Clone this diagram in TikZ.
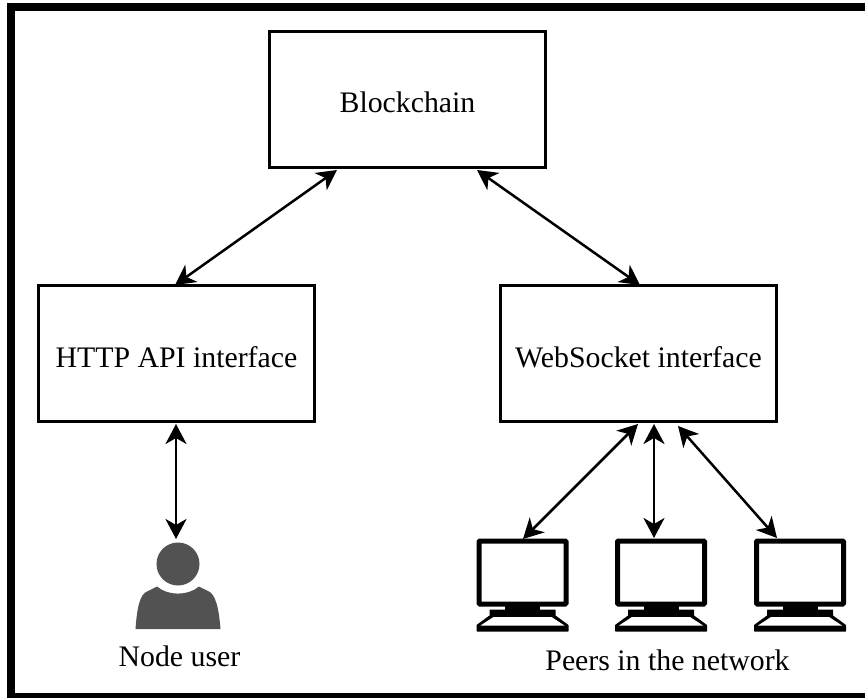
\documentclass[tikz,border=0pt]{standalone}
\usepackage{fontspec}
\setmainfont{Liberation Serif}
\usetikzlibrary{arrows.meta,calc}
\tikzset{
  x=1pt,y=-1pt,
  box/.style={draw=black,line width=2.6pt,fill=white,minimum width=276pt,minimum height=136pt,inner sep=0pt,text height=27pt,text depth=0pt,font=\fontsize{29.8}{36}\selectfont},
  lbl/.style={inner sep=0pt,anchor=base,font=\fontsize{29.8}{36}\selectfont},
  link/.style={line width=2.5pt,{Stealth[length=20pt,width=21pt,inset=6pt]}-{Stealth[length=20pt,width=21pt,inset=6pt]}},
  screen/.style={draw=black,line width=5pt,fill=white,rounded corners=1pt,minimum width=87pt,minimum height=63pt,inner sep=0pt},
  personfill/.style={fill=black!68},
}
\newcommand{\pcbase}[1]{%
  \fill[black] ($(#1)+(-17.5,33)$) rectangle ($(#1)+(17.5,40)$);
  \fill[black,rounded corners=.5pt] ($(#1)+(-33,37)$) rectangle ($(#1)+(33,44)$);
  \fill[black,rounded corners=.5pt] ($(#1)+(-33,43)$) -- ($(#1)+(33,43)$) -- ($(#1)+(46,52.5)$) -- ($(#1)+(46,59)$) -- ($(#1)+(-46,59)$) -- ($(#1)+(-46,52.5)$) -- cycle;
  \fill[white] ($(#1)+(-29,44.5)$) -- ($(#1)+(29,44.5)$) -- ($(#1)+(42,53)$) -- ($(#1)+(-42,53)$) -- cycle;
}
\begin{document}
\begin{tikzpicture}
\useasboundingbox (0,0) rectangle (865,698);
\fill[white] (0,0) rectangle (865,698);
\fill[black] (7,3) rectangle (865,11);
\fill[black] (7,3) rectangle (15,698);
\fill[black] (7,693) rectangle (865,698);
\node[box] (chain) at (407.5,99.5) {Blockchain};
\node[box] (http) at (176.5,353.5) {HTTP API interface};
\node[box] (ws) at (638.5,353.5) {WebSocket interface};
% person
\fill[personfill] (178,564) circle (21.5);
\fill[personfill] (135.5,629) .. controls (137,610) and (139,594) .. (148,591)
  -- (157,586.5) .. controls (168,596) and (188,596) .. (199,586.5)
  -- (208,591) .. controls (216,594) and (219,610) .. (220.5,629) -- cycle;
\node[inner sep=0pt,minimum width=85pt,minimum height=88pt] (user) at (178,586) {};
\node[lbl] (userlbl) at (179.5,666) {Node user};
% computers
\node[screen] (pc1) at (522.5,572.5) {};
\node[screen] (pc2) at (661,572.5) {};
\node[screen] (pc3) at (800,572.5) {};
\pcbase{pc1}
\pcbase{pc2}
\pcbase{pc3}
\node[lbl] (peers) at (667.5,670.5) {Peers in the network};
% connector ends
\coordinate (a1) at (337,170);
\coordinate (a2) at (175,285);
\coordinate (b1) at (477,170);
\coordinate (b2) at (640,285);
\coordinate (c1) at (176,424);
\coordinate (c2) at (176,539);
\coordinate (d1) at (638,424);
\coordinate (d2) at (523,539);
\coordinate (e1) at (654,424);
\coordinate (e2) at (654,538);
\coordinate (f1) at (678,426);
\coordinate (f2) at (777,538);
\draw[link] (a1) -- (a2);
\draw[link] (b1) -- (b2);
\draw[link] (c1) -- (c2);
\draw[link] (d1) -- (d2);
\draw[link] (e1) -- (e2);
\draw[link] (f1) -- (f2);
\end{tikzpicture}
\end{document}
